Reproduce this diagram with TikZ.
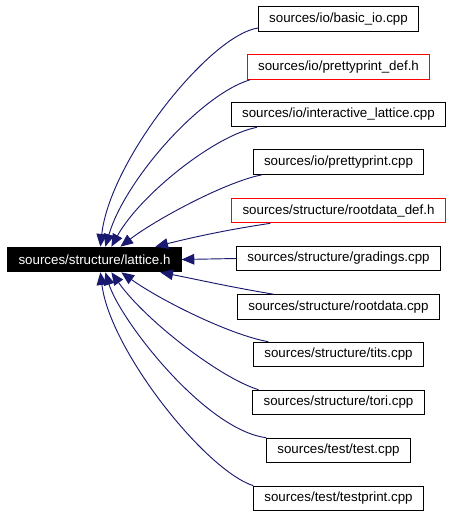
\documentclass[tikz,border=0pt]{standalone}
\usepackage{fontspec}
\setmainfont{Liberation Sans}
\usetikzlibrary{arrows.meta,calc}
\definecolor{edgeblue}{HTML}{191970}
\begin{document}
\begin{tikzpicture}[x=0.75pt,y=-0.75pt,
  file/.style={draw=black,line width=0.75pt,fill=white,inner xsep=8pt,inner ysep=0pt,minimum height=18.5pt,font=\fontsize{10}{12}\selectfont},
  deffile/.style={file,draw=red},
  focus/.style={file,draw=black,fill=black,text=white},
  edge/.style={draw=edgeblue,line width=0.7pt,-{Triangle[length=9.5pt,width=8pt]}}]
\useasboundingbox (0,0) rectangle (451,515);

\node[focus] (c) at (94.5,259.5) {sources/structure/lattice.h};

\node[file]    (n1)  at (338.5,19)    {sources/io/basic\_io.cpp};
\node[deffile] (n2)  at (338.5,67)    {sources/io/prettyprint\_def.h};
\node[file]    (n3)  at (338.5,114.5) {sources/io/interactive\_lattice.cpp};
\node[file]    (n4)  at (338.5,162)   {sources/io/prettyprint.cpp};
\node[deffile] (n5)  at (338.5,210.5) {sources/structure/rootdata\_def.h};
\node[file]    (n6)  at (338.5,258.5) {sources/structure/gradings.cpp};
\node[file]    (n7)  at (338.5,307)   {sources/structure/rootdata.cpp};
\node[file]    (n8)  at (338.5,354.5) {sources/structure/tits.cpp};
\node[file]    (n9)  at (338.5,402.5) {sources/structure/tori.cpp};
\node[file]    (n10) at (338.5,450.5) {sources/test/test.cpp};
\node[file]    (n11) at (338.5,498.5) {sources/test/testprint.cpp};

\draw[edge] ($(n1.west)+(0,9)$) .. controls (210,35) and (110,160) .. ($(c.north west)+(93,0)$);
\draw[edge] ($(n2.south west)+(3,0)$) .. controls (200,95) and (125,180) .. ($(c.north west)+(98,0)$);
\draw[edge] ($(n3.south west)+(26,0)$) .. controls (215,135) and (140,195) .. ($(c.north west)+(104,0)$);
\draw[edge] ($(n4.south west)+(9,0)$) .. controls (225,182) and (155,220) .. ($(c.north west)+(113,0)$);
\draw[edge] ($(n5.south west)+(39,0)$) .. controls (225,230) and (190,238) .. ($(c.north west)+(148,0)$);
\draw[edge] (n6.west) -- (c.east);
\draw[edge] ($(n7.north west)+(36,0)$) .. controls (230,287) and (195,279) .. ($(c.south west)+(153,0)$);
\draw[edge] ($(n8.north west)+(15,0)$) .. controls (230,335) and (160,300) .. ($(c.south west)+(114,0)$);
\draw[edge] ($(n9.north west)+(6,0)$) .. controls (220,378) and (145,320) .. ($(c.south west)+(104,0)$);
\draw[edge] (n10.north west) .. controls (205,430) and (120,320) .. ($(c.south west)+(98,0)$);
\draw[edge] (n11.north west) .. controls (205,470) and (110,350) .. ($(c.south west)+(93,0)$);
\end{tikzpicture}
\end{document}
